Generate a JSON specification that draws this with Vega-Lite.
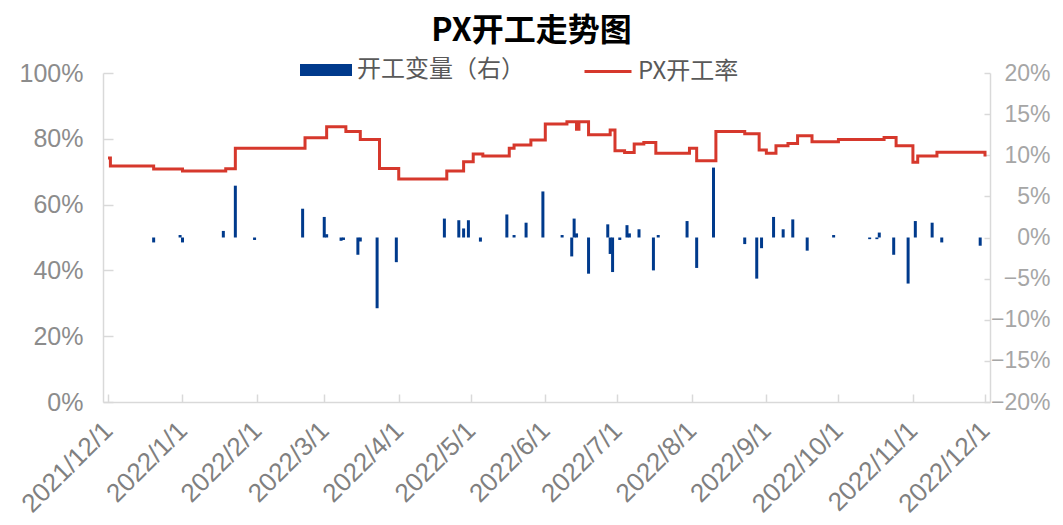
{
  "$schema": "https://vega.github.io/schema/vega-lite/v6.json",
  "width": 887,
  "height": 329,
  "autosize": {"type": "none"},
  "padding": {"left": 103, "top": 73, "right": 73, "bottom": 123},
  "background": "white",
  "config": {"view": {"stroke": null}},
  "title": {
    "text": "PX开工走势图",
    "font": "Noto Sans CJK SC",
    "fontSize": 32,
    "fontWeight": "bold",
    "color": "#000000",
    "anchor": "middle",
    "frame": "group",
    "dx": -15,
    "dy": 14,
    "offset": 10
  },
  "datasets": {
    "rate": [
      {"date": "2021/12/01", "value": 0.742},
      {"date": "2021/12/02", "value": 0.717},
      {"date": "2021/12/20", "value": 0.708},
      {"date": "2022/01/01", "value": 0.702},
      {"date": "2022/01/19", "value": 0.709},
      {"date": "2022/01/23", "value": 0.771},
      {"date": "2022/02/21", "value": 0.803},
      {"date": "2022/03/02", "value": 0.837},
      {"date": "2022/03/10", "value": 0.822},
      {"date": "2022/03/16", "value": 0.798},
      {"date": "2022/03/24", "value": 0.710},
      {"date": "2022/04/01", "value": 0.678},
      {"date": "2022/04/21", "value": 0.702},
      {"date": "2022/04/28", "value": 0.730},
      {"date": "2022/05/02", "value": 0.754},
      {"date": "2022/05/06", "value": 0.748},
      {"date": "2022/05/17", "value": 0.771},
      {"date": "2022/05/19", "value": 0.781},
      {"date": "2022/05/26", "value": 0.796},
      {"date": "2022/06/01", "value": 0.845},
      {"date": "2022/06/10", "value": 0.852},
      {"date": "2022/06/14", "value": 0.829},
      {"date": "2022/06/15", "value": 0.852},
      {"date": "2022/06/19", "value": 0.812},
      {"date": "2022/06/28", "value": 0.827},
      {"date": "2022/06/30", "value": 0.764},
      {"date": "2022/07/04", "value": 0.758},
      {"date": "2022/07/08", "value": 0.784},
      {"date": "2022/07/12", "value": 0.789},
      {"date": "2022/07/17", "value": 0.756},
      {"date": "2022/07/31", "value": 0.771},
      {"date": "2022/08/03", "value": 0.733},
      {"date": "2022/08/11", "value": 0.822},
      {"date": "2022/08/23", "value": 0.815},
      {"date": "2022/08/29", "value": 0.766},
      {"date": "2022/09/01", "value": 0.756},
      {"date": "2022/09/05", "value": 0.779},
      {"date": "2022/09/10", "value": 0.786},
      {"date": "2022/09/14", "value": 0.809},
      {"date": "2022/09/20", "value": 0.791},
      {"date": "2022/10/01", "value": 0.798},
      {"date": "2022/10/20", "value": 0.804},
      {"date": "2022/10/25", "value": 0.779},
      {"date": "2022/11/01", "value": 0.729},
      {"date": "2022/11/03", "value": 0.748},
      {"date": "2022/11/11", "value": 0.759},
      {"date": "2022/11/30", "value": 0.759},
      {"date": "2022/12/01", "value": 0.746}
    ],
    "chg": [
      {"date": "2021/12/20", "value": -0.006},
      {"date": "2021/12/31", "value": 0.003},
      {"date": "2022/01/01", "value": -0.006},
      {"date": "2022/01/18", "value": 0.008},
      {"date": "2022/01/23", "value": 0.063},
      {"date": "2022/01/31", "value": -0.003},
      {"date": "2022/02/20", "value": 0.035},
      {"date": "2022/03/01", "value": 0.025},
      {"date": "2022/03/02", "value": 0.004},
      {"date": "2022/03/08", "value": -0.004},
      {"date": "2022/03/09", "value": -0.003},
      {"date": "2022/03/15", "value": -0.021},
      {"date": "2022/03/16", "value": -0.005},
      {"date": "2022/03/23", "value": -0.086},
      {"date": "2022/03/31", "value": -0.030},
      {"date": "2022/04/20", "value": 0.023},
      {"date": "2022/04/26", "value": 0.021},
      {"date": "2022/04/28", "value": 0.011},
      {"date": "2022/04/30", "value": 0.021},
      {"date": "2022/05/05", "value": -0.005},
      {"date": "2022/05/16", "value": 0.028},
      {"date": "2022/05/19", "value": 0.003},
      {"date": "2022/05/24", "value": 0.018},
      {"date": "2022/05/31", "value": 0.056},
      {"date": "2022/06/08", "value": 0.003},
      {"date": "2022/06/12", "value": -0.023},
      {"date": "2022/06/13", "value": 0.023},
      {"date": "2022/06/14", "value": 0.005},
      {"date": "2022/06/19", "value": -0.044},
      {"date": "2022/06/27", "value": 0.016},
      {"date": "2022/06/28", "value": -0.020},
      {"date": "2022/06/29", "value": -0.042},
      {"date": "2022/07/02", "value": -0.003},
      {"date": "2022/07/05", "value": 0.015},
      {"date": "2022/07/06", "value": 0.005},
      {"date": "2022/07/10", "value": 0.010},
      {"date": "2022/07/16", "value": -0.040},
      {"date": "2022/07/18", "value": 0.003},
      {"date": "2022/07/30", "value": 0.020},
      {"date": "2022/08/03", "value": -0.037},
      {"date": "2022/08/10", "value": 0.085},
      {"date": "2022/08/23", "value": -0.008},
      {"date": "2022/08/28", "value": -0.050},
      {"date": "2022/08/30", "value": -0.013},
      {"date": "2022/09/04", "value": 0.025},
      {"date": "2022/09/08", "value": 0.010},
      {"date": "2022/09/12", "value": 0.022},
      {"date": "2022/09/18", "value": -0.016},
      {"date": "2022/09/29", "value": 0.003},
      {"date": "2022/10/14", "value": -0.002},
      {"date": "2022/10/17", "value": -0.002},
      {"date": "2022/10/18", "value": 0.006},
      {"date": "2022/10/24", "value": -0.021},
      {"date": "2022/10/30", "value": -0.056},
      {"date": "2022/11/02", "value": 0.020},
      {"date": "2022/11/09", "value": 0.018},
      {"date": "2022/11/13", "value": -0.006},
      {"date": "2022/11/29", "value": -0.010}
    ]
  },
  "encoding": {
    "x": {
      "field": "date",
      "type": "temporal",
      "scale": {
        "domain": [
          {"year": 2021, "month": 12, "date": 1},
          {"year": 2022, "month": 12, "date": 1}
        ],
        "nice": false
      },
      "axis": {
        "title": null,
        "values": [
          {"year": 2021, "month": 12, "date": 1},
          {"year": 2022, "month": 1, "date": 1},
          {"year": 2022, "month": 2, "date": 1},
          {"year": 2022, "month": 3, "date": 1},
          {"year": 2022, "month": 4, "date": 1},
          {"year": 2022, "month": 5, "date": 1},
          {"year": 2022, "month": 6, "date": 1},
          {"year": 2022, "month": 7, "date": 1},
          {"year": 2022, "month": 8, "date": 1},
          {"year": 2022, "month": 9, "date": 1},
          {"year": 2022, "month": 10, "date": 1},
          {"year": 2022, "month": 11, "date": 1},
          {"year": 2022, "month": 12, "date": 1}
        ],
        "format": "%Y/%-m/%-d",
        "labelAngle": -45,
        "labelBaseline": "middle",
        "labelFont": "Liberation Sans",
        "labelFontSize": 26,
        "labelColor": "#808080",
        "labelPadding": 32,
        "labelOverlap": false,
        "labelFlush": false,
        "grid": false,
        "domainColor": "#d9d9d9",
        "domainWidth": 1.5,
        "tickColor": "#d9d9d9",
        "tickWidth": 1.5,
        "tickSize": -8
      }
    }
  },
  "layer": [
    {
      "data": {"name": "chg"},
      "mark": {"type": "bar", "size": 3},
      "encoding": {
        "y": {
          "field": "value",
          "type": "quantitative",
          "scale": {"domain": [-0.2, 0.2], "nice": false, "zero": false},
          "axis": {
            "orient": "right",
            "title": null,
            "values": [-0.2, -0.15, -0.1, -0.05, 0, 0.05, 0.1, 0.15, 0.2],
            "format": ".0%",
            "labelFont": "Liberation Sans",
            "labelFontSize": 23,
            "labelColor": "#a6a6a6",
            "labelAlign": "right",
            "labelPadding": 66,
            "grid": false,
            "domainColor": "#d9d9d9",
            "domainWidth": 1.5,
            "tickColor": "#d9d9d9",
            "tickWidth": 1.5,
            "tickSize": -6
          }
        },
        "fill": {
          "datum": "开工变量（右）",
          "type": "nominal",
          "scale": {"range": ["#003a8c"]},
          "legend": {
            "orient": "none",
            "legendX": 197,
            "legendY": -29,
            "title": null,
            "padding": 0,
            "symbolType": "M-1,-0.23H1V0.23H-1Z",
            "symbolSize": 2704,
            "symbolStrokeWidth": 0,
            "symbolOpacity": 1,
            "labelOffset": 5,
            "labelFont": "Noto Sans CJK SC",
            "labelFontSize": 24,
            "labelColor": "#595959",
            "labelLimit": 300
          }
        }
      }
    },
    {
      "data": {"name": "rate"},
      "mark": {"type": "line", "interpolate": "step-after", "strokeWidth": 3},
      "encoding": {
        "y": {
          "field": "value",
          "type": "quantitative",
          "scale": {"domain": [0, 1], "nice": false},
          "axis": {
            "orient": "left",
            "title": null,
            "values": [0, 0.2, 0.4, 0.6, 0.8, 1],
            "format": ".0%",
            "labelFont": "Liberation Sans",
            "labelFontSize": 25,
            "labelColor": "#8c8c8c",
            "labelPadding": 30,
            "grid": false,
            "domainColor": "#d9d9d9",
            "domainWidth": 1.5,
            "tickColor": "#d9d9d9",
            "tickWidth": 1.5,
            "tickSize": -10
          }
        },
        "stroke": {
          "datum": "PX开工率",
          "type": "nominal",
          "scale": {"range": ["#d6382c"]},
          "legend": {
            "orient": "none",
            "legendX": 480,
            "legendY": -26.5,
            "title": null,
            "padding": 0,
            "symbolType": "stroke",
            "symbolSize": 2209,
            "symbolStrokeWidth": 3,
            "labelOffset": 5,
            "labelFont": "Noto Sans CJK SC",
            "labelFontSize": 24,
            "labelColor": "#595959",
            "labelLimit": 300
          }
        }
      }
    }
  ],
  "resolve": {"scale": {"y": "independent"}, "axis": {"y": "independent"}}
}
